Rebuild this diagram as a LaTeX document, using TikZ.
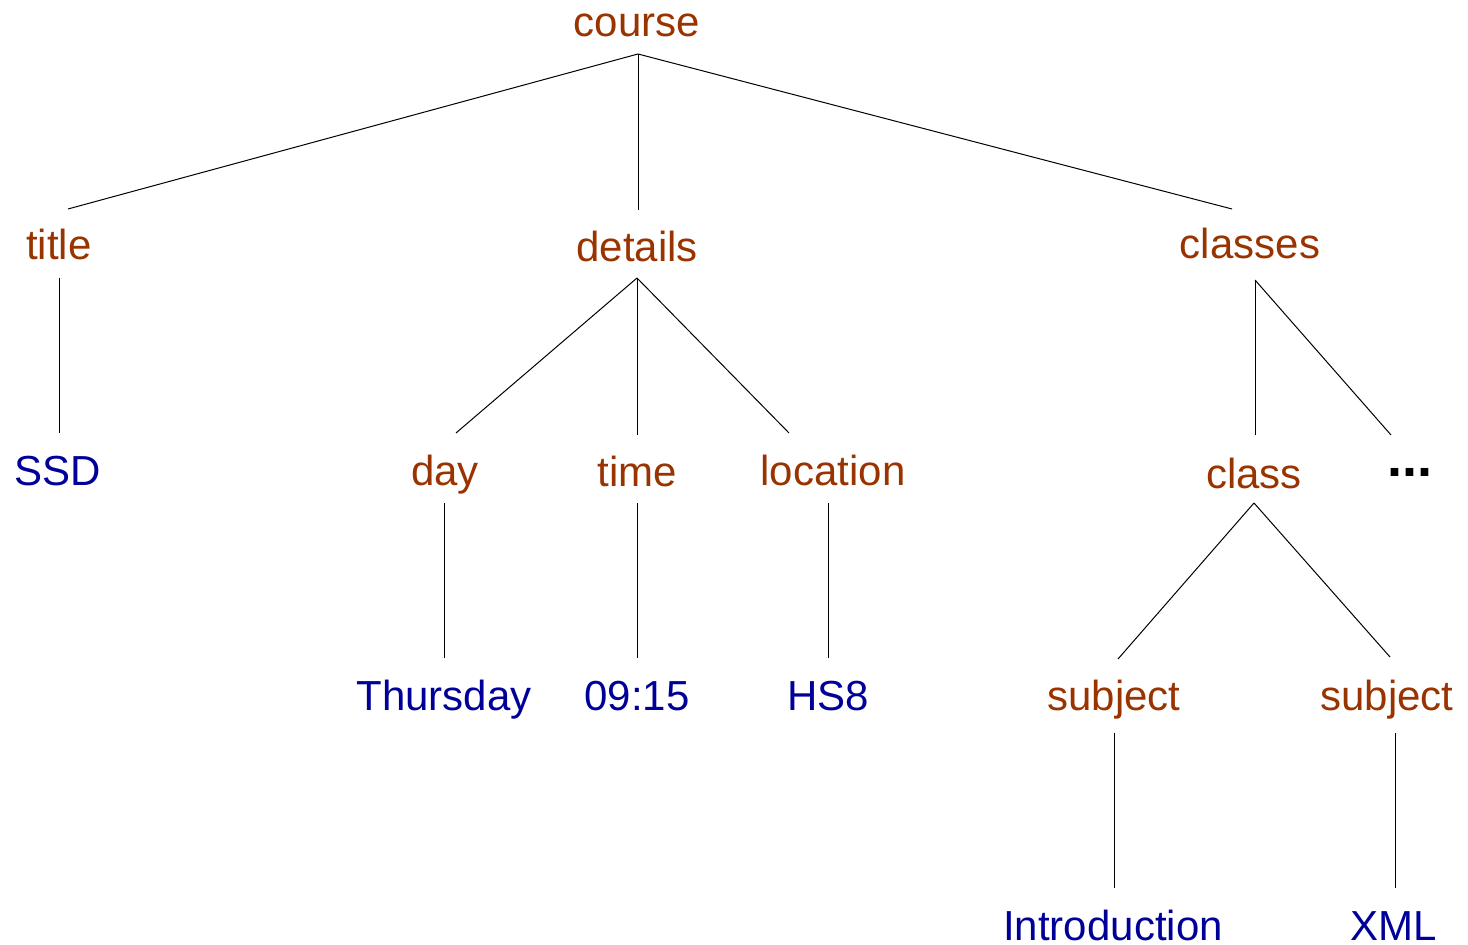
\documentclass[tikz,border=0pt]{standalone}
\usepackage{fontspec}
\setmainfont{Liberation Sans}
\definecolor{elem}{HTML}{993300}
\definecolor{val}{HTML}{000099}
\begin{document}
\begin{tikzpicture}[x=0.5pt,y=-0.5pt,
  el/.style={anchor=base,inner sep=0pt,text=elem,font=\fontsize{21}{25}\selectfont},
  vl/.style={anchor=base,inner sep=0pt,text=val,font=\fontsize{21}{25}\selectfont},
  edge/.style={draw=black,line width=0.5pt}]
\useasboundingbox (0,0) rectangle (1468,945);
% nodes
\node[el] (course) at (637,37) {course};
\node[el] (title) at (59,260) {title};
\node[el] (details) at (637,262) {details};
\node[el] (classes) at (1250,259) {classes};
\node[vl] (ssd) at (58,486) {SSD};
\node[el] (day) at (445,486) {day};
\node[el] (time) at (637,487) {time};
\node[el] (location) at (833,486) {location};
\node[el] (class) at (1254,489) {class};
\node[anchor=base,inner sep=0pt,font=\fontsize{27}{30}\selectfont\bfseries] (dots) at (1410,477) {...};
\node[vl] (thu) at (444,711) {Thursday};
\node[vl] (tm) at (637,711) {09:15};
\node[vl] (hs) at (828,711) {HS8};
\node[el] (subj1) at (1114,711) {subject};
\node[el] (subj2) at (1387,711) {subject};
\node[vl] (intro) at (1113,941) {Introduction};
\node[vl] (xml) at (1394,941) {XML};
% connector points
\coordinate (courseB) at (638,54);
\coordinate (titleT) at (68,209);
\coordinate (detailsT) at (638,210);
\coordinate (classesT) at (1232,209);
\coordinate (titleB) at (59,278);
\coordinate (ssdT) at (59,433);
\coordinate (detailsB) at (637,278);
\coordinate (dayT) at (456,433);
\coordinate (timeT) at (637,435);
\coordinate (locT) at (789,433);
\coordinate (classesB) at (1255,280);
\coordinate (classT) at (1255,435);
\coordinate (dotsT) at (1391,435);
\coordinate (dayB) at (444,503);
\coordinate (thuT) at (444,658);
\coordinate (timeB) at (637,503);
\coordinate (tmT) at (637,658);
\coordinate (locB) at (828,503);
\coordinate (hsT) at (828,658);
\coordinate (classB) at (1254,503);
\coordinate (subj1T) at (1118,659);
\coordinate (subj2T) at (1390,657);
\coordinate (subj1B) at (1114,733);
\coordinate (introT) at (1114,888);
\coordinate (subj2B) at (1395,733);
\coordinate (xmlT) at (1395,888);
% connectors
\draw[edge] (courseB) -- (titleT);
\draw[edge] (courseB) -- (detailsT);
\draw[edge] (courseB) -- (classesT);
\draw[edge] (titleB) -- (ssdT);
\draw[edge] (detailsB) -- (dayT);
\draw[edge] (detailsB) -- (timeT);
\draw[edge] (detailsB) -- (locT);
\draw[edge] (classesB) -- (classT);
\draw[edge] (classesB) -- (dotsT);
\draw[edge] (dayB) -- (thuT);
\draw[edge] (timeB) -- (tmT);
\draw[edge] (locB) -- (hsT);
\draw[edge] (classB) -- (subj1T);
\draw[edge] (classB) -- (subj2T);
\draw[edge] (subj1B) -- (introT);
\draw[edge] (subj2B) -- (xmlT);
\end{tikzpicture}
\end{document}
